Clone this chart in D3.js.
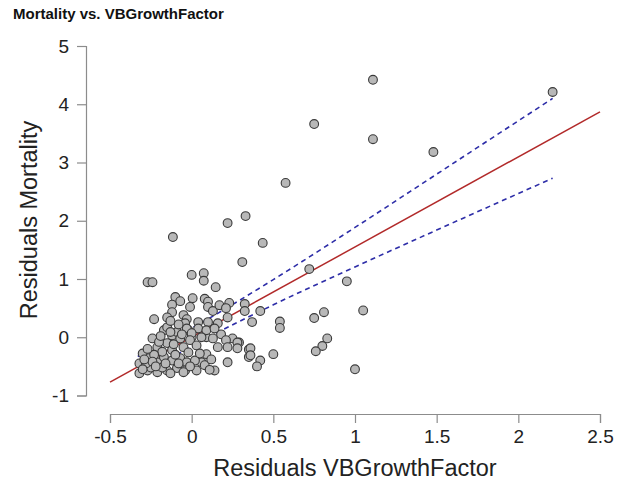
<!DOCTYPE html>
<html>
<head>
<meta charset="utf-8">
<script src="https://cdn.jsdelivr.net/npm/d3@7"></script>
<style>
  body { margin: 0; background: #fff; }
  svg text { font-family: "Liberation Sans", Arial, sans-serif; }
</style>
</head>
<body>
<svg id="chart"></svg>
<script>
const width = 621;
const height = 488;

// residuals (x = VBGrowthFactor, y = Mortality)
const resX = [
  1.11, 0.75, 1.11, 1.48, 2.21, 0.575, -0.115, 0.22, 0.33, 0.435, 0.31,
  -0.27, -0.24, 0.0, 0.074, 0.074, 0.147, 0.72, 0.95, 0.75, 0.81, 1.05, 0.83, 0.80, 0.76, 1.0,
  0.54, 0.54, 0.325, 0.325, 0.42, 0.37, 0.29, 0.35, 0.35, 0.42, 0.40, 0.50,
  -0.10, -0.07, 0.006, 0.08, 0.10, -0.12, -0.01, 0.10, 0.13, 0.17, 0.23, 0.21, -0.12, -0.15, -0.23,
  -0.05, -0.03, -0.04, 0.04, 0.04, 0.10, 0.16, 0.22, -0.17, -0.12, -0.02, 0.0, 0.09, 0.18, 0.25,
  -0.15, -0.09, -0.03, 0.0, 0.09, 0.14, 0.06, 0.13, 0.21, 0.28, 0.16, 0.22, 0.28, 0.36, 0.36,
  0.22, 0.14, 0.06, 0.09,
  -0.24, -0.15, -0.21, -0.13, -0.07, -0.12, -0.05, -0.01, 0.03, -0.02, -0.30, -0.26, -0.32, -0.21,
  -0.17, -0.12, -0.07, -0.03, 0.02, 0.05, 0.08, 0.03, -0.04, -0.09, -0.15, -0.21, -0.27, -0.32,
  -0.13, -0.25, -0.18, -0.28,
  -0.20, -0.18, -0.10, -0.23, -0.27, -0.08, -0.01, -0.16, -0.24, -0.11, -0.19, -0.06, -0.29,
  -0.22, -0.05, 0.11, 0.12, -0.30, -0.08, -0.13
];
const resY = [
  4.42, 3.66, 3.40, 3.18, 4.21, 2.65, 1.72, 1.96, 2.08, 1.62, 1.29,
  0.945, 0.945, 1.07, 1.10, 0.97, 0.86, 1.17, 0.96, 0.33, 0.43, 0.46, -0.02, -0.15, -0.24, -0.55,
  0.27, 0.16, 0.57, 0.45, 0.45, 0.26, -0.09, -0.21, -0.34, -0.40, -0.50, -0.29,
  0.69, 0.62, 0.67, 0.66, 0.61, 0.56, 0.52, 0.52, 0.45, 0.55, 0.59, 0.50, 0.43, 0.34, 0.31,
  0.38, 0.31, 0.24, 0.26, 0.15, 0.26, 0.24, 0.34, 0.12, 0.03, 0.12, 0.0, 0.0, 0.05, -0.02,
  0.17, 0.09, 0.15, 0.07, 0.12, 0.15, 0.0, -0.02, -0.05, -0.09, -0.17, -0.17, -0.19, -0.19, -0.31,
  -0.43, -0.57, -0.43, -0.29,
  -0.02, -0.10, -0.17, 0.09, -0.02, -0.22, -0.17, -0.05, -0.14, -0.26, -0.28, -0.36, -0.45, -0.43,
  -0.34, -0.40, -0.36, -0.43, -0.40, -0.28, -0.48, -0.57, -0.57, -0.53, -0.57, -0.60, -0.57, -0.62,
  -0.62, -0.52, -0.52, -0.45,
  -0.08, -0.25, -0.30, -0.30, -0.20, -0.45, -0.50, -0.45, -0.42, -0.12, 0.02, 0.05, -0.38,
  -0.50, -0.60, -0.56, -0.38, -0.55, 0.22, 0.28
];

// fitted line and confidence band
const fitX = [-0.5, 2.5];
const fitY = [-0.77, 3.87];
const bandX = [-0.33, 0, 0.5, 1, 1.5, 2.21];
const bandUpper = [-0.33, 0.155, 0.99, 1.885, 2.80, 4.10];
const bandLower = [-0.69, -0.155, 0.557, 1.207, 1.84, 2.73];

const xTicks = [-0.5, 0, 0.5, 1, 1.5, 2, 2.5];
const yTicks = [-1, 0, 1, 2, 3, 4, 5];

const svg = d3.select("#chart")
    .attr("width", width)
    .attr("height", height);

const x = d3.scaleLinear().domain([-0.5, 2.5]).range([110, 600]);
const y = d3.scaleLinear().domain([-1, 5]).range([395.5, 46]);

// title
svg.append("text")
    .attr("x", 13)
    .attr("y", 19)
    .attr("font-size", 15)
    .attr("font-weight", "bold")
    .attr("fill", "#111")
    .text("Mortality vs. VBGrowthFactor");

// axes (plain hyphen for negatives, like the original)
const fmt = d => String(d);

const xAxis = svg.append("g")
    .attr("transform", "translate(0,414)")
    .call(d3.axisBottom(x).tickValues(xTicks).tickFormat(fmt).tickSizeOuter(0).tickSize(9).tickPadding(7));

const yAxis = svg.append("g")
    .attr("transform", "translate(86,0)")
    .call(d3.axisLeft(y).tickValues(yTicks).tickFormat(fmt).tickSizeOuter(0).tickSize(9).tickPadding(8));

[xAxis, yAxis].forEach(g => {
    g.select(".domain").attr("stroke", "#8c8c8c").attr("stroke-width", 1.2);
    g.selectAll(".tick line").attr("stroke", "#8c8c8c").attr("stroke-width", 1.2);
    g.selectAll(".tick text")
        .attr("fill", "#222")
        .attr("font-size", 19)
        .attr("font-family", "Liberation Sans, Arial, sans-serif");
});

// axis titles
svg.append("text")
    .attr("x", 355)
    .attr("y", 476)
    .attr("text-anchor", "middle")
    .attr("font-size", 23.5)
    .attr("fill", "#222")
    .text("Residuals VBGrowthFactor");

svg.append("text")
    .attr("transform", "translate(37,220) rotate(-90)")
    .attr("text-anchor", "middle")
    .attr("font-size", 23.5)
    .attr("fill", "#222")
    .text("Residuals Mortality");

// regression line
svg.append("line")
    .attr("x1", x(fitX[0])).attr("y1", y(fitY[0]))
    .attr("x2", x(fitX[1])).attr("y2", y(fitY[1]))
    .attr("stroke", "#b22a2a")
    .attr("stroke-width", 1.5);

// confidence band
const bandLine = vals => d3.line()
    .x((d, i) => x(bandX[i]))
    .y(d => y(d))
    .curve(d3.curveMonotoneX)(vals);

[bandUpper, bandLower].forEach(vals => {
    svg.append("path")
        .attr("d", bandLine(vals))
        .attr("fill", "none")
        .attr("stroke", "#2e2ea8")
        .attr("stroke-width", 1.6)
        .attr("stroke-dasharray", "5,4");
});

// points
svg.selectAll(".dot")
    .data(d3.range(resX.length))
    .enter()
    .append("circle")
    .attr("class", "dot")
    .attr("cx", i => x(resX[i]))
    .attr("cy", i => y(resY[i]))
    .attr("r", 4.4)
    .attr("fill", "#b8b8b8")
    .attr("stroke", "#3a3a3a")
    .attr("stroke-width", 1.1);
</script>
</body>
</html>
